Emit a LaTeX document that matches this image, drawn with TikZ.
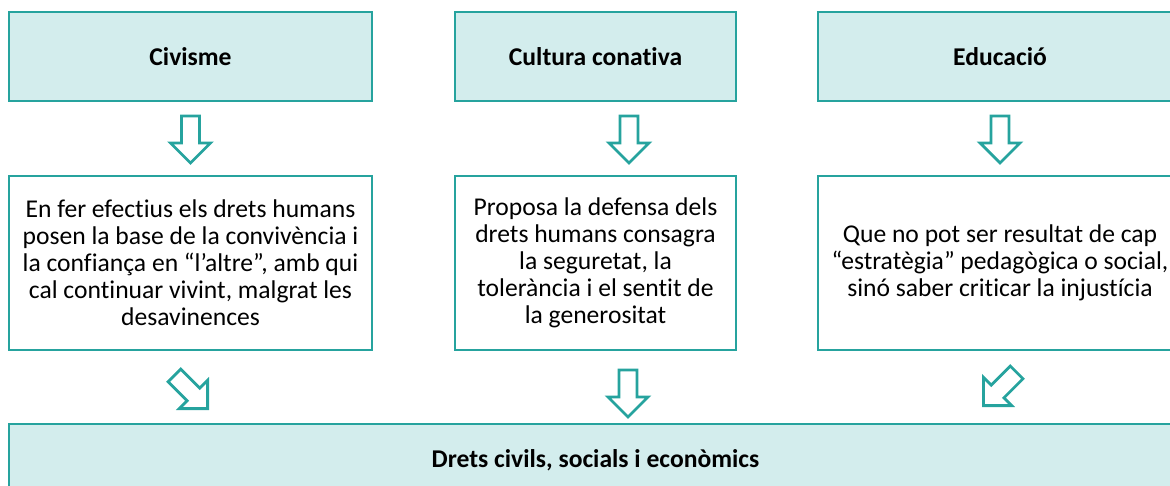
\documentclass[tikz,border=0pt]{standalone}
\usepackage{fontspec}
\setmainfont[Ligatures=NoCommon]{Carlito}
\definecolor{tealline}{HTML}{26A39E}
\definecolor{tealfill}{HTML}{D3EDED}
\begin{document}
\begin{tikzpicture}[x=0.5pt,y=-0.5pt,
  headbox/.style={draw=tealline, line width=1pt, fill=tealfill, inner sep=0pt,
    font=\fontsize{12.8}{13.5}\selectfont\bfseries},
  textbox/.style={draw=tealline, line width=0.9pt, fill=white, inner sep=0pt,
    align=center, font=\fontsize{12.8}{13.5}\selectfont},
  arrowline/.style={draw=tealline, line width=1.4pt, fill=white, line join=miter},
  blockarrow/.pic={\path[arrowline] (-9,-23.5) -- (9,-23.5) -- (9,3.5) -- (20,3.5)
     -- (0,23.5) -- (-20,3.5) -- (-9,3.5) -- cycle;}]
\useasboundingbox (0,0) rectangle (1170,486);
\clip (0,0) rectangle (1170,486);
% top row
\node[headbox, minimum width=181.5pt, minimum height=44.5pt] (civ) at (190.5,56.5) {Civisme};
\node[headbox, minimum width=140.5pt, minimum height=44.5pt] (cult) at (595.5,56.5) {Cultura conativa};
\node[headbox, minimum width=182pt, minimum height=44.5pt] (edu) at (1000,56.5) {Educació};
% middle row
\node[textbox, minimum width=181.5pt, minimum height=87pt] (civtxt) at (190.5,263)
  {En fer efectius els drets humans\\posen la base de la convivència i\\la confiança en “l’altre”, amb qui\\cal continuar vivint, malgrat les\\desavinences};
\node[textbox, minimum width=140.5pt, minimum height=87pt] (culttxt) at (595.5,263)
  {Proposa la defensa dels\\drets humans consagra\\la seguretat, la\\tolerància i el sentit de\\la generositat};
\node[textbox, minimum width=182pt, minimum height=87pt] (edutxt) at (1000,263)
  {Que no pot ser resultat de cap\\“estratègia” pedagògica o social,\\sinó saber criticar la injustícia};
% bottom
\node[headbox, minimum width=586.5pt, minimum height=36pt] (drets) at (595.5,460)
  {Drets civils, socials i econòmics};
% arrows
\pic at (190.5,139.5) {blockarrow};
\pic at (629,139.5) {blockarrow};
\pic at (1000,139.5) {blockarrow};
\pic[rotate=45] at (191,392) {blockarrow};
\pic at (628,393.5) {blockarrow};
\pic[rotate=-45] at (1000,389) {blockarrow};
\end{tikzpicture}
\end{document}
